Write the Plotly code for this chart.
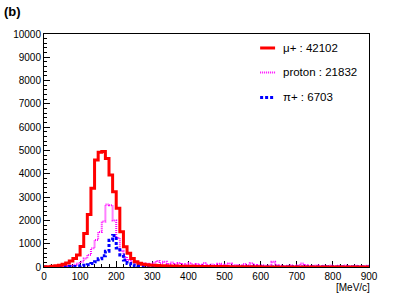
import plotly.graph_objects as go

# Bin low edges (MeV/c), 10 MeV/c wide bins from 0 to 900
bin_width = 10
bin_edges = [i * bin_width for i in range(91)]

mu_counts = [
    10, 15, 30, 50, 80, 120, 170, 260, 360, 520,
    880, 1440, 2250, 3380, 4590, 4920, 4960, 4660, 3950, 3230,
    2520, 1515, 870, 590, 370, 230, 160, 120, 95, 80,
    70, 60, 55, 50, 45, 40, 40, 35, 35, 30,
    30, 30, 25, 25, 25, 20, 20, 20, 20, 20,
    20, 15, 15, 15, 15, 15, 10, 10, 10, 10,
    0, 0, 0, 0, 0, 0, 0, 0, 0, 0,
    0, 0, 0, 0, 0, 0, 0, 0, 0, 0,
    0, 0, 0, 0, 0, 0, 0, 0, 0, 0,
]
proton_counts = [
    0, 5, 10, 15, 20, 30, 45, 65, 100, 150,
    230, 370, 520, 800, 1160, 1500, 1950, 2680, 2650, 2000,
    1250, 700, 430, 300, 240, 200, 170, 150, 140, 120,
    180, 260, 150, 230, 130, 190, 110, 170, 120, 100,
    160, 90, 130, 100, 170, 80, 110, 90, 140, 70,
    100, 150, 80, 90, 60, 130, 70, 160, 90, 60,
    70, 50, 60, 220, 90, 60, 40, 50, 70, 40,
    60, 150, 80, 40, 50, 60, 30, 50, 40, 60,
    40, 50, 30, 60, 40, 30, 50, 40, 30, 50,
]
pi_counts = [
    0, 0, 5, 5, 10, 10, 15, 20, 25, 35,
    50, 70, 100, 150, 230, 350, 480, 680, 1150, 1350,
    820, 520, 300, 150, 90, 60, 40, 30, 25, 20,
    15, 15, 10, 10, 10, 8, 8, 5, 5, 5,
    5, 5, 5, 3, 3, 3, 3, 0, 0, 0,
    0, 0, 0, 0, 0, 0, 0, 0, 0, 0,
    0, 0, 0, 0, 0, 0, 0, 0, 0, 0,
    0, 0, 0, 0, 0, 0, 0, 0, 0, 0,
    0, 0, 0, 0, 0, 0, 0, 0, 0, 0,
]

series_names = ["μ+", "proton", "π+"]
series_totals = [42102, 21832, 6703]
series_colors = ["#ff0000", "#ff00ff", "#0000ff"]

x_ticks = [0, 100, 200, 300, 400, 500, 600, 700, 800, 900]
y_ticks = [0, 1000, 2000, 3000, 4000, 5000, 6000, 7000, 8000, 9000, 10000]

FONT = "Liberation Sans, Arial, Helvetica, sans-serif"

fig = go.Figure()

def step_trace(counts, color, width, dash):
    ys = list(counts) + [counts[-1]]
    return go.Scatter(
        x=bin_edges, y=ys, mode="lines", line_shape="hv",
        line=dict(color=color, width=width, dash=dash),
        showlegend=False, hoverinfo="skip",
    )

fig.add_trace(step_trace(proton_counts, series_colors[1], 2, "1px,1px"))
fig.add_trace(step_trace(pi_counts, series_colors[2], 3, "3px,2px"))
fig.add_trace(step_trace(mu_counts, series_colors[0], 3, "solid"))

# manual legend (paper coordinates)
legend_rows_y = [0.940, 0.835, 0.728]
legend_styles = [("solid", 3), ("1px,1px", 2), ("3px,2px", 3)]
for i in range(3):
    dash, w = legend_styles[i]
    fig.add_shape(type="line", xref="paper", yref="paper",
                  x0=0.665, x1=0.711, y0=legend_rows_y[i], y1=legend_rows_y[i],
                  line=dict(color=series_colors[i], width=w, dash=dash))
    fig.add_annotation(xref="paper", yref="paper", x=0.728, y=legend_rows_y[i],
                       text=f"{series_names[i]} : {series_totals[i]}",
                       showarrow=False, xanchor="left", yanchor="middle",
                       font=dict(family=FONT, size=11.5, color="black"))

fig.add_annotation(xref="paper", yref="paper", x=-0.128, y=1.095,
                   text="<b>(b)</b>", showarrow=False, xanchor="left", yanchor="middle",
                   font=dict(family=FONT, size=13, color="black"))
fig.add_annotation(xref="paper", yref="paper", x=1.01, y=-0.088,
                   text="[MeV/c]", showarrow=False, xanchor="right", yanchor="middle",
                   font=dict(family=FONT, size=10, color="black"))

fig.update_layout(
    width=415, height=300,
    margin=dict(l=44, r=46, t=34, b=33, autoexpand=False),
    paper_bgcolor="white", plot_bgcolor="white",
    font=dict(family=FONT, size=10, color="black"),
)
fig.update_xaxes(
    range=[0, 900], tickvals=x_ticks, ticktext=[str(v) for v in x_ticks],
    showgrid=False, zeroline=False, showline=True, mirror=True, automargin=False,
    linecolor="black", linewidth=1, ticks="inside", ticklen=6, tickcolor="black",
    minor=dict(dtick=20, ticks="inside", ticklen=3, tickcolor="black"),
    layer="below traces", tickfont=dict(size=10),
)
fig.update_yaxes(
    range=[0, 10000], tickvals=y_ticks, ticktext=[str(v) for v in y_ticks],
    showgrid=False, zeroline=False, showline=True, mirror=True, automargin=False,
    linecolor="black", linewidth=1, ticks="inside", ticklen=6, tickcolor="black",
    minor=dict(dtick=200, ticks="inside", ticklen=3, tickcolor="black"),
    layer="below traces", tickfont=dict(size=10),
)

fig.write_html(
    "out.html",
    config={"displayModeBar": False},
    post_script="document.body.style.margin='0';document.body.style.overflow='hidden';",
)
